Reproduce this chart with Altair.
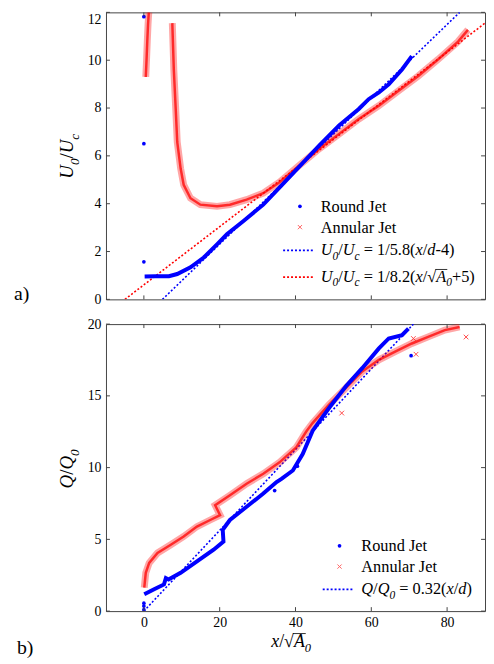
import altair as alt
import pandas as pd

# ---------------- data ----------------
# panel a) U0/Uc
rj_a_x = [0.2, 3.0, 6.6, 8.8, 12.3, 15.8, 19.3, 21.9, 26.2, 31.5, 36.2, 41.0, 46.3, 51.5, 56.7, 59.3, 62.0, 64.6, 68.1, 70.7]
rj_a_y = [0.96, 0.97, 0.97, 1.06, 1.34, 1.75, 2.30, 2.72, 3.27, 3.96, 4.75, 5.55, 6.44, 7.27, 7.96, 8.37, 8.65, 8.99, 9.61, 10.17]
rj_a_out_x = [0.0, 0.0, 0.0]
rj_a_out_y = [11.82, 6.51, 1.57]

aj_a1_x = [0.5, 0.7, 0.9, 1.1, 1.3]
aj_a1_y = [9.3, 10.0, 10.8, 11.5, 12.0]
aj_a2_x = [7.5, 7.9, 8.4, 8.8, 9.7, 10.5, 12.3, 14.9, 19.3, 22.7, 27.1, 31.5, 35.8, 41.0, 46.3, 51.5, 56.7, 62.0, 67.2, 72.4, 77.6, 82.9, 85.5]
aj_a2_y = [11.55, 9.6, 7.96, 6.58, 5.47, 4.79, 4.23, 3.96, 3.89, 3.96, 4.17, 4.44, 4.9, 5.6, 6.3, 6.92, 7.54, 8.1, 8.72, 9.34, 10.03, 10.78, 11.27]

fit_rj_a_x = [4.9, 83.3]
fit_rj_a_y = [0.0, 12.0]
fit_aj_a_x = [-5.0, 90.0]
fit_aj_a_y = [0.0, 11.55]

# panel b) Q/Q0
rj_b_x = [0.1, 2.7, 5.3, 5.8, 6.5, 9.7, 14.0, 18.4, 21.0, 20.8, 22.7, 27.1, 31.5, 35.0, 36.3, 39.3, 41.9, 44.5, 48.9, 53.3, 57.6, 62.0, 64.6, 68.1, 69.8]
rj_b_y = [1.17, 1.52, 1.86, 2.3, 2.2, 2.67, 3.47, 4.28, 4.85, 5.66, 6.35, 7.27, 8.19, 9.0, 9.22, 9.8, 10.95, 12.56, 14.17, 15.67, 16.93, 18.31, 19.0, 19.23, 19.69]
rj_b_out_x = [0.0, 0.0, 0.0, 34.5, 40.5, 70.5]
rj_b_out_y = [0.1, 0.35, 0.55, 8.4, 10.1, 17.8]

aj_b_x = [0.1, 0.5, 1.4, 3.6, 7.1, 10.5, 14.0, 17.5, 20.1, 18.8, 22.7, 27.1, 31.5, 35.8, 40.2, 42.8, 44.5, 48.9, 53.3, 57.6, 62.0, 66.3, 70.7, 75.0, 79.4, 83.3]
aj_b_y = [1.63, 2.67, 3.36, 4.05, 4.62, 5.2, 5.89, 6.35, 6.69, 7.38, 8.07, 8.88, 9.57, 10.37, 11.4, 12.5, 13.1, 14.4, 15.55, 16.7, 17.51, 18.08, 18.65, 19.11, 19.58, 19.8]
aj_b_out_x = [52.2, 71.1, 71.8, 85.0]
aj_b_out_y = [13.8, 19.0, 17.9, 19.1]

fit_rj_b_x = [0.0, 71.1]
fit_rj_b_y = [0.0, 20.0]

x_ticks = [0, 20, 40, 60, 80]
ya_ticks = [0, 2, 4, 6, 8, 10, 12]
yb_ticks = [0, 5, 10, 15, 20]

# ---------------- layout / style ----------------
W, H = 383, 290
OX = 106
OY_A, OY_B = 9, 322
FONT = "Liberation Serif, Times New Roman, Times, serif"
BLUE = "#0000ff"
RED = "#ff0000"
FRAME = "#444444"
XPATH = "M-1,-1L1,1M1,-1L-1,1"

REG = {"0": .5, "1": .5, "2": .5, "3": .5, "4": .5, "5": .5, "8": .5, "/": .278, "=": .564,
       " ": .25, ".": .25, "(": .333, ")": .333, "-": .333, "+": .564, "√": .549}
ITA = {"U": .722, "c": .444, "x": .444, "d": .5, "A": .611, "Q": .722, "0": .5}


def tw(s, italic, fs):
    tab = ITA if italic else REG
    return sum(tab.get(ch, .5) for ch in s) * fs


def rich(segs, x, y, fs, angle=0):
    out = []
    pos = 0.0
    for text, it, sub in segs:
        size = fs * 0.7 if sub else fs
        off = fs * 0.3 if sub else 0.0
        lead = len(text) - len(text.lstrip(" "))
        pos += lead * 0.25 * size
        t = text.strip(" ")
        if angle == 0:
            px, py = x + pos, y + off
        else:
            px, py = x + off, y - pos
        out.append(dict(text=t, x=px, y=py, size=size, italic=it, angle=angle,
                        w=tw(t, it, size), bar=(t == "A")))
        pos += tw(text.lstrip(" "), it, size)
    return out


dummy = alt.Data(values=[{"a": 1}])


def text_layers(pieces, ox, oy):
    layers = []
    for p in pieces:
        layers.append(
            alt.Chart(dummy).mark_text(
                text=p["text"], align="left", baseline="alphabetic", font=FONT,
                fontSize=p["size"], fontStyle="italic" if p["italic"] else "normal",
                angle=p["angle"], color="black"
            ).encode(x=alt.value(p["x"] - ox), y=alt.value(p["y"] - oy))
        )
        if p["bar"]:
            yb = p["y"] - 0.74 * p["size"] - oy
            layers.append(
                alt.Chart(dummy).mark_rule(color="black", strokeWidth=0.8)
                .encode(x=alt.value(p["x"] - ox - 1), x2=alt.value(p["x"] - ox + p["w"] + 1), y=alt.value(yb))
            )
    return layers


xs = alt.Scale(domain=[-10, 90], nice=False, zero=False)


def panel(ys, xaxis, yaxis, lines, oy, legend, extra_text, yticks):
    def X(f):
        return alt.X(f"{f}:Q", scale=xs, axis=xaxis)

    def Y(f):
        return alt.Y(f"{f}:Q", scale=ys, axis=yaxis)

    layers = []
    for fx, fy, col in lines["fits"]:
        df = pd.DataFrame({"x": fx, "y": fy})
        layers.append(alt.Chart(df).mark_line(color=col, strokeDash=[2, 2], strokeWidth=1.6, clip=True)
                      .encode(x=X("x"), y=Y("y")))
    for segs in lines["red"]:
        rows = []
        for k, (sx, sy) in enumerate(segs):
            for i, (a, b) in enumerate(zip(sx, sy)):
                rows.append({"x": a, "y": b, "seg": k, "i": i})
        df = pd.DataFrame(rows)
        layers.append(alt.Chart(df).mark_line(color=RED, strokeWidth=7, opacity=0.35, clip=True)
                      .encode(x=X("x"), y=Y("y"), detail="seg:N", order="i:Q"))
        layers.append(alt.Chart(df).mark_line(color=RED, strokeWidth=2.5, opacity=0.75, clip=True)
                      .encode(x=X("x"), y=Y("y"), detail="seg:N", order="i:Q"))
    for sx, sy in lines["blue"]:
        df = pd.DataFrame({"x": sx, "y": sy, "i": list(range(len(sx)))})
        layers.append(alt.Chart(df).mark_line(color=BLUE, strokeWidth=4, clip=True)
                      .encode(x=X("x"), y=Y("y"), order="i:Q"))
    for sx, sy in lines["blue_pts"]:
        df = pd.DataFrame({"x": sx, "y": sy})
        layers.append(alt.Chart(df).mark_point(shape="circle", filled=True, size=14, color=BLUE, opacity=1, clip=True)
                      .encode(x=X("x"), y=Y("y")))
    for sx, sy in lines["red_pts"]:
        df = pd.DataFrame({"x": sx, "y": sy})
        layers.append(alt.Chart(df).mark_point(shape=XPATH, size=22, color=RED, strokeWidth=1, opacity=0.7, clip=True)
                      .encode(x=X("x"), y=Y("y")))
    xt = pd.DataFrame({"t": x_ticks})
    yt = pd.DataFrame({"t": yticks})
    layers.append(alt.Chart(xt).mark_rule(color=FRAME).encode(x=X("t"), y=alt.value(0), y2=alt.value(4)))
    layers.append(alt.Chart(xt).mark_rule(color=FRAME).encode(x=X("t"), y=alt.value(H - 4), y2=alt.value(H)))
    layers.append(alt.Chart(yt).mark_rule(color=FRAME).encode(y=Y("t"), x=alt.value(0), x2=alt.value(4)))
    layers.append(alt.Chart(yt).mark_rule(color=FRAME).encode(y=Y("t"), x=alt.value(W - 4), x2=alt.value(W)))
    for kind, a, b, c in legend:
        if kind == "dot":
            layers.append(alt.Chart(dummy).mark_point(shape="circle", filled=True, size=14, color=BLUE, opacity=1)
                          .encode(x=alt.value(a - OX), y=alt.value(b - oy)))
        elif kind == "x":
            layers.append(alt.Chart(dummy).mark_point(shape=XPATH, size=18, color=RED, strokeWidth=1, opacity=0.6)
                          .encode(x=alt.value(a - OX), y=alt.value(b - oy)))
        else:
            col = BLUE if kind == "bline" else RED
            layers.append(alt.Chart(dummy).mark_rule(color=col, strokeDash=[2, 2], strokeWidth=1.6)
                          .encode(x=alt.value(a[0] - OX), x2=alt.value(a[1] - OX), y=alt.value(b - oy)))
    layers += text_layers(extra_text, OX, oy)
    return alt.layer(*layers).properties(width=W, height=H)


lab = dict(labelFont=FONT, labelFontSize=14, labelColor="black", grid=False, ticks=False,
           domain=False, title=None, labelOverlap=False)

ya_axis = alt.Axis(values=ya_ticks, labelPadding=5,
                   labelBaseline={"condition": {"test": "datum.value == 12", "value": "top"}, "value": "middle"},
                   **lab)
yb_axis = alt.Axis(values=yb_ticks, labelPadding=5, **lab)
xb_axis = alt.Axis(values=x_ticks, labelPadding=5, **lab)

LF = 16.5
U0Uc = [("U", 1, 0), ("0", 1, 1), ("/", 0, 0), ("U", 1, 0), ("c", 1, 1)]
texts_a = []
texts_a += rich([("Round Jet", 0, 0)], 323, 210.5, LF)
texts_a += rich([("Annular Jet", 0, 0)], 323, 231.5, LF)
texts_a += rich(U0Uc + [(" = 1/5.8(", 0, 0), ("x", 1, 0), ("/", 0, 0), ("d", 1, 0), ("-4)", 0, 0)], 323, 254, LF)
texts_a += rich(U0Uc + [(" = 1/8.2(", 0, 0), ("x", 1, 0), ("/√", 0, 0), ("A", 1, 0), ("0", 1, 1), ("+5)", 0, 0)], 323, 281, LF)
texts_a += rich(U0Uc, 73, 177, 19, angle=270)
texts_a += rich([("a)", 0, 0)], 13, 300, 20)
legend_a = [("dot", 302, 205, None), ("x", 302, 226, None),
            ("bline", (285, 317), 249.5, None), ("rline", (285, 317), 276.5, None)]

texts_b = []
texts_b += rich([("Round Jet", 0, 0)], 364, 551.5, LF)
texts_b += rich([("Annular Jet", 0, 0)], 364, 572.5, LF)
texts_b += rich([("Q", 1, 0), ("/", 0, 0), ("Q", 1, 0), ("0", 1, 1), (" = 0.32(", 0, 0), ("x", 1, 0),
                 ("/", 0, 0), ("d", 1, 0), (")", 0, 0)], 364, 594.5, LF)
texts_b += rich([("Q", 1, 0), ("/", 0, 0), ("Q", 1, 0), ("0", 1, 1)], 73, 488, 19, angle=270)
texts_b += rich([("x", 1, 0), ("/√", 0, 0), ("A", 1, 0), ("0", 1, 1)], 273, 648, 18)
texts_b += rich([("b)", 0, 0)], 16, 655, 20)
legend_b = [("dot", 342, 546, None), ("x", 342, 567, None), ("bline", (325, 357), 590, None)]

top = panel(
    alt.Scale(domain=[0, 12], nice=False, zero=False), None, ya_axis,
    {"fits": [(fit_rj_a_x, fit_rj_a_y, BLUE), (fit_aj_a_x, fit_aj_a_y, RED)],
     "red": [[(aj_a1_x, aj_a1_y), (aj_a2_x, aj_a2_y)]],
     "blue": [(rj_a_x, rj_a_y)],
     "blue_pts": [(rj_a_out_x, rj_a_out_y)],
     "red_pts": []},
    OY_A, legend_a, texts_a, ya_ticks)

bot = panel(
    alt.Scale(domain=[0, 20], nice=False, zero=False), xb_axis, yb_axis,
    {"fits": [(fit_rj_b_x, fit_rj_b_y, BLUE)],
     "red": [[(aj_b_x, aj_b_y)]],
     "blue": [(rj_b_x, rj_b_y)],
     "blue_pts": [(rj_b_out_x, rj_b_out_y)],
     "red_pts": [(aj_b_out_x, aj_b_out_y)]},
    OY_B, legend_b, texts_b, yb_ticks)

chart = alt.vconcat(top, bot, spacing=25, bounds="flush").properties(
    padding={"left": 5, "top": 0, "right": 0, "bottom": 0}
).configure_view(stroke=FRAME, strokeWidth=1)

chart.save("out.html", embed_options={"renderer": "svg", "actions": False})
